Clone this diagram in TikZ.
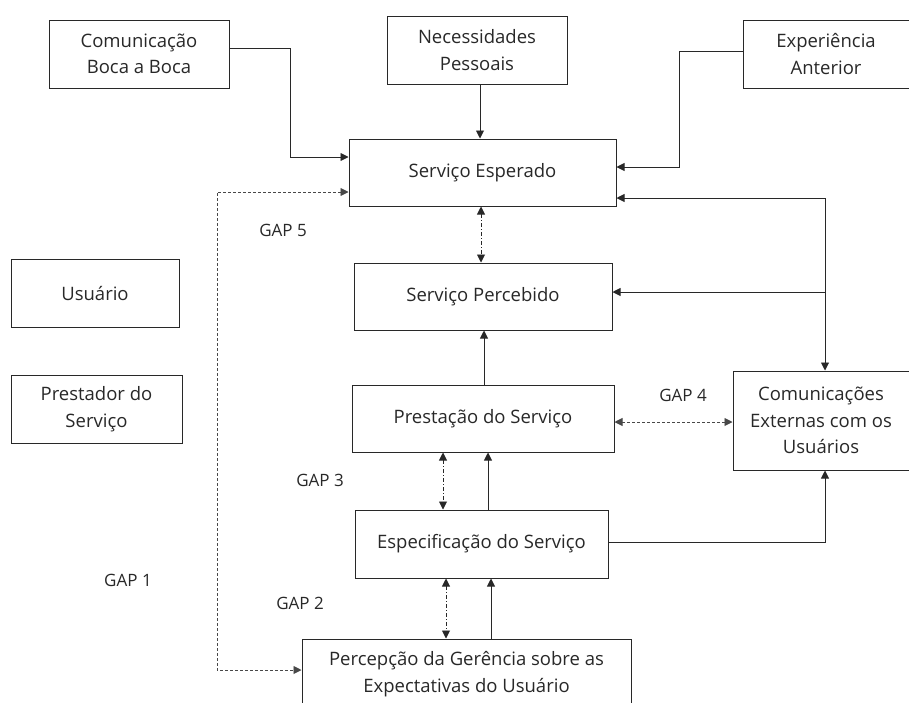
\documentclass[tikz,border=0pt]{standalone}
\usepackage{fontspec}
\setmainfont{Open Sans}
\usepackage{xcolor}
\usepackage{tikz}
\usetikzlibrary{arrows.meta,positioning,calc}
\definecolor{linegray}{RGB}{40, 40, 40}
\definecolor{textgray}{RGB}{40, 40, 40}
\newcommand{\servfont}{\fontsize{18.5pt}{26.5pt}\selectfont}
\newcommand{\gapfont}{\fontsize{17pt}{20pt}\selectfont}
\tikzset{
  servbox/.style={
    draw=linegray,
    line width=1pt,
    align=center,
    inner sep=3pt,
    text=textgray,
    font=\servfont
  },
  servarrow/.style={
    -{Triangle[length=8pt,width=8pt]},
    line width=0.9pt,
    draw=linegray
  },
  gaparrow/.style={
    {Triangle[length=8pt,width=8pt]}-{Triangle[length=8pt,width=8pt]},
    line width=0.9pt,
    draw=linegray,
    dash pattern=on 4pt off 2pt on 1pt off 2pt
  },
  gapdash/.style={
    {Triangle[length=8pt,width=8pt]}-{Triangle[length=8pt,width=8pt]},
    line width=0.9pt,
    draw=linegray!85,
    dash pattern=on 3pt off 2pt
  },
  gaplabel/.style={
    text=textgray,
    font=\gapfont
  }
}
\begin{document}
\begin{tikzpicture}[x=1pt,y=-1pt]
  \clip (0,0) rectangle (909,702);
  % external factors
  \node[servbox, minimum width=180pt, minimum height=68pt] (boca) at (139,54) {Comunicação\\Boca a Boca};
  \node[servbox, minimum width=180pt, minimum height=68pt] (necess) at (477,50) {Necessidades\\Pessoais};
  \node[servbox, minimum width=166pt, minimum height=68pt] (exper) at (826,54) {Experiência\\Anterior};
  % legend
  \node[servbox, minimum width=168pt, minimum height=68pt] (usuario) at (95,293) {Usuário};
  \node[servbox, minimum width=171pt, minimum height=68pt] (prestador) at (96.5,409) {Prestador do\\Serviço};
  % main column
  \node[servbox, minimum width=267pt, minimum height=67pt] (esperado) at (482.5,172.5) {Serviço Esperado};
  \node[servbox, minimum width=258pt, minimum height=67pt] (percebido) at (483,296.5) {Serviço Percebido};
  \node[servbox, minimum width=262pt, minimum height=67pt] (prestacao) at (483,418.5) {Prestação do Serviço};
  \node[servbox, minimum width=253pt, minimum height=68pt] (especif) at (481.5,544) {Especificação do Serviço};
  \node[servbox, minimum width=329pt, minimum height=70pt] (percepcao) at (466.5,674) {Percepção da Gerência sobre as\\Expectativas do Usuário};
  \node[servbox, minimum width=176pt, minimum height=99pt] (externas) at (821,420.5) {Comunicações\\Externas com os\\Usuários};

  % gap labels
  \node[gaplabel] (gap5) at (283,230) {GAP 5};
  \node[gaplabel] (gap4) at (683,395) {GAP 4};
  \node[gaplabel] (gap3) at (320,480) {GAP 3};
  \node[gaplabel] (gap1) at (128,580) {GAP 1};
  \node[gaplabel] (gap2) at (300,603) {GAP 2};

  \coordinate (bend1) at (290,157);
  \coordinate (bend2) at (679,167);
  \coordinate (bend3) at (217,670);
  \coordinate (joint) at (825,292);

  % solid connectors
  \draw[servarrow] ([yshift=6pt]boca.east) -| (bend1) -- (bend1 -| esperado.west);
  \draw[servarrow] ([xshift=3pt]necess.south) -- ([xshift=3pt]necess.south |- esperado.north);
  \draw[servarrow] ([yshift=3pt]exper.west) -| (bend2) -- (bend2 -| esperado.east);
  \draw[{Triangle[length=8pt,width=8pt]}-{Triangle[length=8pt,width=8pt]}, line width=0.9pt, draw=linegray]
    ([yshift=-25.5pt]esperado.east) -| ([xshift=4pt]externas.north);
  \draw[servarrow] (joint) -- (joint -| percebido.east);
  \draw[servarrow] ([xshift=1pt]prestacao.north) -- ([xshift=1pt]prestacao.north |- percebido.south);
  \draw[servarrow] ([xshift=6.5pt]especif.north) -- ([xshift=6.5pt]especif.north |- prestacao.south);
  \draw[servarrow] ([yshift=2pt]especif.east) -| ([xshift=4pt]externas.south);
  \draw[servarrow] ([xshift=9.5pt]especif.south |- percepcao.north) -- ([xshift=9.5pt]especif.south);

  % gaps
  \draw[gaparrow] ([xshift=-1.5pt]esperado.south) -- ([xshift=-1.5pt]esperado.south |- percebido.north);
  \draw[gapdash] ([yshift=-3.5pt]prestacao.east) -- ([yshift=-3.5pt]prestacao.east -| externas.west);
  \draw[gaparrow] ([xshift=-40pt]prestacao.south) -- ([xshift=-40pt]prestacao.south |- especif.north);
  \draw[gaparrow] ([xshift=-35.5pt]especif.south) -- ([xshift=-35.5pt]especif.south |- percepcao.north);
  \draw[gapdash] ([yshift=-19.5pt]esperado.west) -| (bend3) -- (bend3 -| percepcao.west);
\end{tikzpicture}
\end{document}
